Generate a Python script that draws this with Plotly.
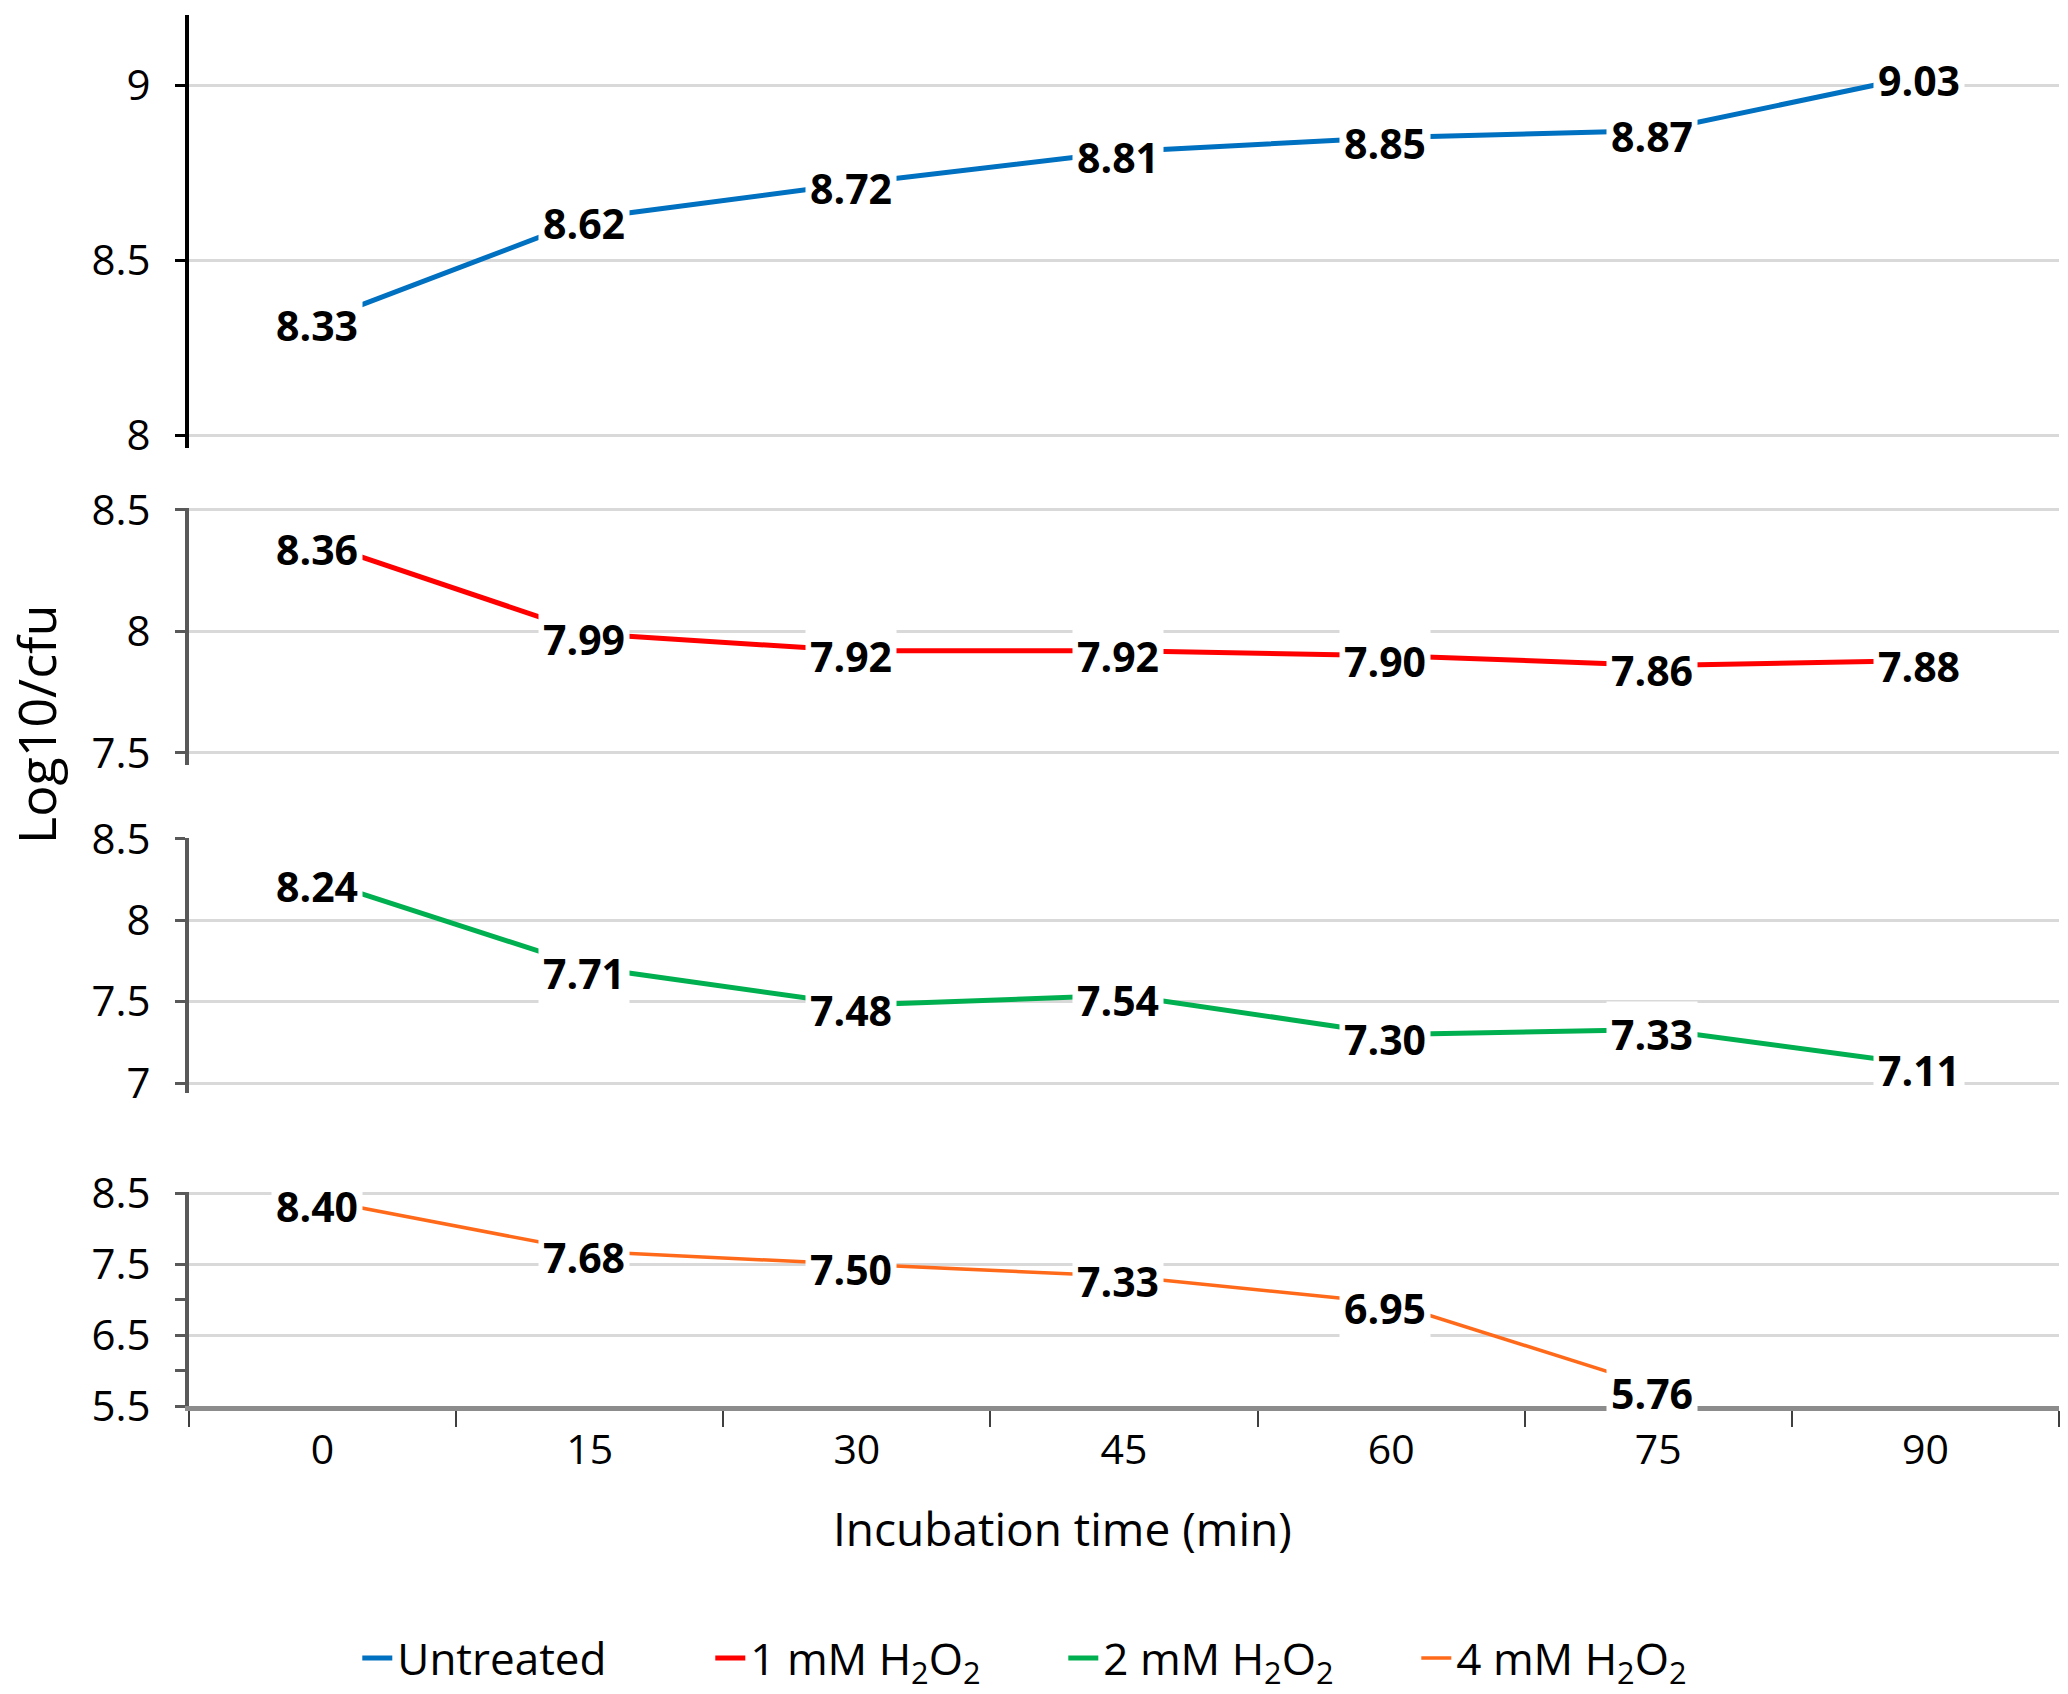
import plotly.graph_objects as go

# ---- data ----
times = ["0", "15", "30", "45", "60", "75", "90"]
series_names = ["Untreated", "1 mM H<sub>2</sub>O<sub>2</sub>", "2 mM H<sub>2</sub>O<sub>2</sub>", "4 mM H<sub>2</sub>O<sub>2</sub>"]
untreated = [8.33, 8.62, 8.72, 8.81, 8.85, 8.87, 9.03]
h2o2_1mm = [8.36, 7.99, 7.92, 7.92, 7.90, 7.86, 7.88]
h2o2_2mm = [8.24, 7.71, 7.48, 7.54, 7.30, 7.33, 7.11]
h2o2_4mm = [8.40, 7.68, 7.50, 7.33, 6.95, 5.76, None]

y1_ticks = [8, 8.5, 9]
y2_ticks = [7.5, 8, 8.5]
y3_ticks = [7, 7.5, 8, 8.5]
y4_ticks = [5.5, 6.5, 7.5, 8.5]
y4_minor = [6, 7]

# ---- styling ----
colors = ["#0070C0", "#FF0000", "#00B050", "#FF6A1A"]
widths = [5, 5, 5, 3.5]
values = [untreated, h2o2_1mm, h2o2_2mm, h2o2_4mm]
ranges = [[7.963, 9.2], [7.45, 8.508], [6.94, 8.505], [5.5, 8.52]]
domains = [[0.6887, 1.0], [0.4608, 0.6456], [0.2250, 0.4083], [0.0, 0.1538]]
tickvals = [y1_ticks, y2_ticks, y3_ticks, y4_ticks]
axis_colors = ["#000000", "#595959", "#595959", "#595959"]
FONT = "Open Sans"

fig = go.Figure()
for i in range(4):
    sfx = "" if i == 0 else str(i + 1)
    fig.add_trace(go.Scatter(
        x=times, y=values[i], mode="lines", name=series_names[i],
        line=dict(color=colors[i], width=widths[i]),
        xaxis="x" + sfx, yaxis="y" + sfx, connectgaps=False,
    ))
    for j, v in enumerate(values[i]):
        if v is None:
            continue
        fig.add_annotation(
            x=j, y=v, xref="x" + sfx, yref="y" + sfx,
            text="<b>%.2f</b>" % v, showarrow=False,
            font=dict(family=FONT, size=41, color="#000000"),
            bgcolor="white", borderpad=4, yshift=-5, xshift=-6,
        )

layout = dict(
    width=2068, height=1694,
    margin=dict(l=189, r=9, t=15, b=288, autoexpand=False),
    paper_bgcolor="white", plot_bgcolor="white",
    font=dict(family=FONT, color="#000000"),
    showlegend=True,
    legend=dict(
        orientation="h", x=0.090, xanchor="left",
        yref="container", y=0.021, yanchor="middle",
        font=dict(family=FONT, size=44, color="#000000"),
        itemwidth=30, tracegroupgap=0, entrywidth=308, entrywidthmode="pixels",
    ),
)

for i in range(4):
    sfx = "" if i == 0 else str(i + 1)
    xa = dict(
        type="category", categoryorder="array", categoryarray=times,
        range=[-0.5, 6.5], domain=[0, 1], anchor="y" + sfx,
        showgrid=False, zeroline=False,
    )
    if i < 3:
        xa.update(showline=False, showticklabels=False, ticks="", matches="x4")
    else:
        xa.update(showline=True, linecolor="#8C8C8C", linewidth=5,
                  ticks="outside", tickson="boundaries", ticklen=16, tickwidth=2,
                  tickcolor="#404040", tickfont=dict(family=FONT, size=41, color="#000000"),
                  ticklabelstandoff=4)
    ya = dict(
        domain=domains[i], range=ranges[i], anchor="x" + sfx,
        tickmode="array", tickvals=tickvals[i],
        ticktext=[("%g" % t) for t in tickvals[i]],
        showgrid=True, gridcolor="#D9D9D9", gridwidth=3,
        zeroline=False, showline=True, linecolor=axis_colors[i], linewidth=4,
        ticks="outside", ticklen=10, tickwidth=3, tickcolor=axis_colors[i],
        tickfont=dict(family=FONT, size=42, color="#000000"),
        ticklabelstandoff=16,
    )
    if i == 3:
        ya["minor"] = dict(tickmode="array", tickvals=y4_minor, ticks="outside",
                           ticklen=10, tickwidth=3, tickcolor=axis_colors[i], showgrid=False)
    layout["xaxis" + sfx] = xa
    layout["yaxis" + sfx] = ya

fig.update_layout(**layout)

fig.add_annotation(
    text="Incubation time (min)", xref="paper", yref="paper",
    x=0.467, y=-0.0877, xanchor="center", yanchor="middle", showarrow=False,
    font=dict(family=FONT, size=46, color="#000000"),
)
fig.add_annotation(
    text="Log10/cfu", xref="paper", yref="paper", textangle=-90,
    x=-0.0818, y=0.4896, xanchor="center", yanchor="middle", showarrow=False,
    font=dict(family=FONT, size=52, color="#000000"),
)

fig.write_html("out.html", config={"displayModeBar": False},
               post_script="document.body.style.margin='0';document.body.style.overflow='hidden';")
